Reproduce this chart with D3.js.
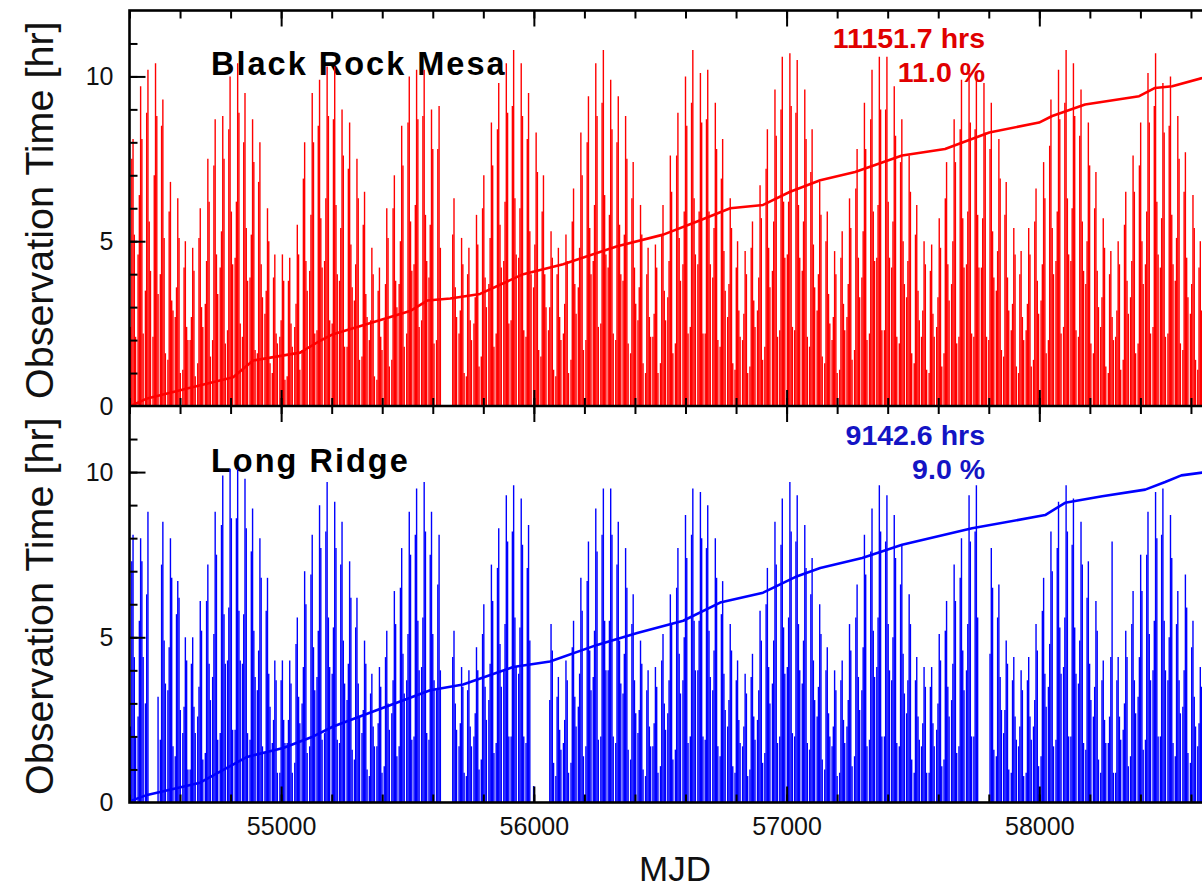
<!DOCTYPE html>
<html><head><meta charset="utf-8">
<script src="https://cdn.jsdelivr.net/npm/d3@7"></script>
<style>html,body{margin:0;padding:0;background:#fff;overflow:hidden}</style>
</head><body><svg id="chart" width="1202" height="887"></svg>
<script>
// New-moon MJD of each observing month (dark period centre)
const monthMJD = [
54414,54444,54473,54503,54532,54562,54591,54621,54650,54680,
54710,54739,54769,54798,54828,54857,54887,54916,54946,54975,
55005,55034,55064,55093,55123,55152,55182,55212,55241,55271,
55300,55330,55359,55389,55418,55448,55477,55507,55536,55566,
55595,55625,55654,55684,55714,55743,55773,55802,55832,55861,
55891,55920,55950,55979,56009,56038,56068,56097,56127,56157,
56186,56216,56245,56275,56304,56334,56363,56393,56422,56452,
56481,56511,56540,56570,56600,56629,56659,56688,56718,56747,
56777,56806,56836,56865,56895,56924,56954,56983,57013,57042,
57072,57101,57131,57161,57190,57220,57249,57279,57308,57338,
57367,57397,57426,57456,57485,57515,57544,57574,57604,57633,
57663,57692,57722,57751,57781,57810,57840,57869,57899,57928,
57958,57987,58017,58046,58076,58106,58135,58165,58194,58224,
58253,58283,58312,58342,58371,58401,58430,58460,58489,58519,
58548,58578,58608,58637];
// day offsets of the sampled nights relative to the new moon
const nightOffsets = [-10, -5, 0, 5, 10];

// Black Rock Mesa nightly observation time [hr]
const brmHours = [
[2.4,7.5,8.1,5.2,2.1],[4.6,6.4,9.7,8.1,2.2],[3.5,8.9,10.2,5.6,4.1],[2.1,7.0,10.4,8.8,3.4],[4.0,8.5,9.3,5.1,1.6],
[1.4,5.9,6.8,3.2,2.9],[2.7,3.6,6.3,5.1,1.0],[1.1,4.2,5.0,2.4,2.0],[2.0,2.7,4.8,4.1,0.9],[1.3,5.1,6.0,3.0,2.4],
[3.1,4.4,7.5,6.2,1.5],[2.0,7.3,8.7,4.6,3.4],[4.2,5.3,8.8,7.5,1.9],[2.3,8.4,10.0,5.9,4.3],[4.5,6.2,10.4,8.9,2.5],
[2.1,8.0,9.5,5.4,3.8],[3.9,5.2,8.7,7.4,1.7],[1.6,6.8,8.0,4.3,3.3],[2.8,3.5,6.0,5.0,1.3],[1.0,3.9,4.6,2.2,1.9],
[2.1,2.6,4.6,3.8,0.8],[0.9,3.8,4.5,2.5,1.8],[2.4,3.1,5.5,4.6,1.1],[1.7,6.9,8.0,4.4,3.5],[4.1,5.8,9.5,8.0,2.2],
[2.3,8.5,9.9,5.7,4.2],[4.4,6.3,10.3,8.8,2.6],[2.5,8.7,10.3,6.1,4.0],[3.8,5.4,9.0,7.6,1.8],[1.8,7.2,8.6,4.9,3.6],
[3.2,4.3,7.5,6.3,1.4],[1.5,5.5,6.5,3.4,2.7],[2.0,2.6,4.8,4.0,0.9],[0.8,3.5,4.2,2.1,1.7],[2.6,3.7,6.0,5.1,1.2],
[1.4,6.0,7.0,3.8,3.0],[3.7,5.0,8.5,7.3,1.8],[2.2,8.6,10.0,5.6,4.1],[4.3,6.1,10.2,8.7,2.4],[2.6,8.8,10.2,5.8,4.4],
[3.9,5.5,9.0,7.8,1.9],[2.0,7.8,9.1,4.8,0],[0,0,0,0,0],[0,5.2,6.3,3.6,2.7],[2.2,2.9,5.1,4.3,1.0],
[0.9,4.0,4.8,2.6,2.0],[2.5,3.3,5.8,4.9,1.2],[1.5,6.0,7.0,3.9,3.0],[3.7,5.1,8.6,7.3,1.8],[2.2,8.4,9.8,5.5,4.2],
[4.4,6.2,10.4,8.9,2.5],[2.6,9.1,10.8,6.3,4.6],[4.5,6.0,10.4,8.8,2.3],[2.1,8.1,9.5,5.3,4.0],[3.6,4.9,8.3,7.1,1.7],
[1.5,5.9,7.0,4.0,3.0],[2.3,3.0,5.3,4.5,1.1],[0.9,4.0,4.8,2.7,2.0],[2.2,3.1,5.2,4.4,1.0],[1.4,5.6,6.6,3.7,2.8],
[3.6,4.8,8.3,7.0,1.7],[2.0,8.0,9.4,5.4,4.0],[4.4,6.1,10.4,8.8,2.4],[2.5,9.2,10.8,6.4,4.6],[4.2,5.8,9.9,8.4,2.2],
[2.0,8.0,9.4,5.5,4.0],[3.8,5.2,8.8,7.5,1.9],[1.6,6.3,7.4,4.2,3.1],[2.6,3.6,6.1,5.2,1.3],[1.0,4.0,4.8,2.7,2.1],
[2.1,2.8,4.9,4.2,1.0],[1.3,5.2,6.1,3.5,2.6],[3.3,4.4,7.6,6.5,1.6],[1.9,7.6,8.9,5.1,3.8],[4.3,5.9,10.0,8.5,2.2],
[2.4,9.2,10.8,6.3,4.6],[4.3,5.9,10.1,8.6,2.2],[2.2,8.7,10.2,5.9,4.3],[3.9,5.4,9.2,7.8,2.0],[1.8,6.9,8.1,4.7,3.5],
[2.7,3.7,6.3,5.4,1.3],[1.1,4.2,5.0,2.9,2.1],[2.0,2.8,4.7,4.0,1.0],[1.2,4.8,5.6,3.2,2.4],[2.9,3.9,6.7,5.7,1.4],
[1.8,7.2,8.4,4.8,3.6],[4.1,5.6,9.6,8.2,2.1],[2.3,9.0,10.6,6.2,4.5],[4.6,6.2,10.7,9.1,2.4],[2.3,8.9,10.5,6.1,4.5],
[4.1,5.6,9.6,8.1,2.1],[1.8,7.1,8.4,4.9,3.6],[2.9,4.0,6.8,5.8,1.5],[1.3,5.0,5.9,3.4,2.5],[2.0,2.7,4.7,4.0,1.0],
[1.1,4.5,5.3,3.1,2.3],[2.7,3.7,6.3,5.4,1.4],[1.7,6.6,7.8,4.5,3.3],[3.9,5.3,9.2,7.8,2.0],[2.2,8.7,10.2,5.9,4.4],
[4.5,6.1,10.6,9.0,2.3],[2.3,9.0,10.6,6.2,4.5],[4.2,5.6,9.7,8.2,2.1],[1.9,7.4,8.7,5.0,3.7],[3.3,4.4,7.6,6.5,1.6],
[1.3,5.2,6.1,3.5,2.6],[2.1,2.9,5.0,4.3,1.1],[1.0,4.1,4.9,2.8,2.1],[2.4,3.3,5.7,4.8,1.2],[1.6,6.3,7.4,4.3,3.2],
[3.7,5.0,8.7,7.4,1.9],[2.1,8.4,9.9,5.7,4.2],[4.3,5.9,10.1,8.6,2.2],[2.1,8.4,9.9,5.8,4.2],[4.2,5.7,9.8,8.3,2.1],
[2.0,7.8,9.2,5.3,3.9],[3.5,4.7,8.1,6.9,1.7],[1.5,5.8,6.8,3.9,2.9],[2.3,3.1,5.4,4.6,1.2],[1.0,4.0,4.7,2.7,2.0],
[2.3,3.1,5.4,4.6,1.2],[1.4,5.6,6.6,3.8,2.8],[3.2,4.3,7.4,6.3,1.6],[2.0,7.9,9.3,5.4,4.0],[4.4,5.9,10.2,8.7,2.2],
[2.4,9.2,10.8,6.3,4.6],[4.4,6.0,10.4,8.8,2.3],[2.1,8.2,9.6,5.6,4.1],[3.7,5.0,8.6,7.3,1.9],[1.6,6.0,7.1,4.1,3.0],
[2.4,3.3,5.7,4.8,1.2],[1.0,4.0,4.7,2.7,2.0],[2.1,2.9,5.0,4.3,1.1],[1.4,5.5,6.5,3.8,2.8],[3.3,4.4,7.6,6.5,1.6],
[1.9,7.3,8.6,5.0,3.7],[4.3,5.9,10.1,8.6,2.2],[2.4,9.1,10.7,6.2,4.6],[4.2,5.7,9.8,8.3,2.1],[2.2,8.5,10.0,5.8,4.3],
[3.8,5.1,8.8,7.5,1.9],[1.7,6.5,7.7,4.5,3.3],[2.8,3.7,6.4,5.4,1.4],[1.1,4.2,5.0,2.9,2.1]];

// Long Ridge nightly observation time [hr]
const lrHours = [
[2.3,7.3,8.1,4.4,2.0],[2.6,5.5,8.0,7.3,4.4],[3.0,6.3,8.8,0,0],[0,0,0,0,3.2],[1.9,7.2,8.5,4.9,3.6],
[3.4,4.7,8.0,6.8,1.7],[1.4,5.7,6.7,6.2,2.8],[2.1,2.9,5.0,4.3,1.0],[1.0,4.2,5.0,2.9,2.1],[2.6,3.5,6.1,5.2,1.3],
[1.5,6.1,7.2,4.2,3.1],[3.8,5.1,8.8,7.5,1.9],[2.1,8.4,9.9,5.7,4.2],[4.3,5.9,10.1,8.6,2.2],[2.2,8.6,10.1,5.8,4.3],
[4.2,5.7,9.8,8.3,2.1],[1.9,7.6,8.9,5.2,3.8],[3.4,4.6,8.0,6.8,1.7],[1.5,5.8,6.8,3.9,2.9],[1.8,2.5,4.3,3.7,0.9],
[0.9,3.7,4.3,2.5,1.8],[1.8,2.5,4.3,3.6,0.9],[1.2,4.8,5.6,3.2,2.4],[3.0,4.1,7.0,6.0,1.5],[1.7,6.9,8.1,4.7,3.4],
[3.8,5.2,9.0,7.7,1.9],[2.1,8.2,9.7,5.6,4.1],[3.9,5.3,9.1,7.7,1.9],[1.8,7.2,8.5,4.9,3.6],[3.1,4.2,7.3,6.2,1.6],
[1.3,5.3,6.2,3.6,2.6],[2.1,2.8,4.9,4.2,1.0],[0.8,3.3,3.9,2.3,1.7],[1.7,2.4,4.1,3.5,0.9],[1.1,4.4,5.2,3.0,2.2],
[2.7,3.7,6.4,5.4,1.4],[1.7,6.5,7.7,4.5,3.3],[3.7,5.1,8.8,7.5,1.9],[2.0,8.1,9.5,5.5,4.0],[4.1,5.6,9.7,8.2,2.1],
[1.9,7.5,8.8,5.1,3.7],[3.4,6.6,8.1,4.0,0],[0,0,0,0,0],[0,4.4,5.2,3.0,2.2],[1.7,2.4,4.1,3.5,0.9],
[0.8,3.4,4.0,2.3,1.7],[2.0,2.7,4.7,4.0,1.0],[1.3,5.1,6.0,3.5,2.5],[3.1,4.2,7.2,6.1,1.5],[1.8,7.1,8.3,4.8,3.5],
[4.0,5.4,9.3,7.9,2.0],[2.0,8.2,9.6,5.6,4.1],[3.9,5.3,9.2,7.8,2.0],[1.8,7.1,8.4,4.9,0],[0.5,0,0,0,0],
[0,0,0,0,0],[0,3.1,5.4,4.6,1.2],[0.8,3.2,3.8,2.2,1.6],[1.8,2.5,4.3,3.7,0.9],[1.2,4.7,5.5,3.2,2.3],
[2.9,3.9,6.8,5.8,1.4],[1.7,6.7,7.9,4.6,3.4],[3.8,5.2,8.9,7.6,1.9],[2.0,8.1,9.5,5.5,4.0],[4.0,5.5,9.5,8.1,2.0],
[1.8,7.2,8.5,4.9,3.6],[3.3,4.5,7.7,6.5,1.6],[1.3,5.4,6.3,3.7,2.7],[2.1,2.8,4.9,4.2,1.0],[0.8,3.4,4.0,2.3,1.7],
[1.7,2.4,4.1,3.5,0.9],[1.1,4.3,5.1,3.0,2.2],[2.7,3.7,6.3,5.4,1.3],[1.6,6.5,7.7,4.5,3.3],[3.7,5.0,8.7,7.4,1.8],
[2.0,8.1,9.5,5.5,4.0],[4.0,5.5,9.4,8.0,2.0],[1.9,7.7,9.0,5.2,3.8],[3.4,4.6,8.0,6.8,1.7],[1.4,5.7,6.7,3.9,2.8],
[2.3,3.1,5.4,4.6,1.1],[0.9,3.7,4.3,2.5,1.8],[1.7,2.3,3.9,3.3,0.8],[1.0,3.8,4.5,2.6,1.9],[2.5,3.4,5.8,4.9,1.2],
[1.5,6.0,7.1,4.1,3.0],[3.6,4.9,8.5,7.2,1.8],[2.0,7.8,9.2,5.3,3.9],[4.1,5.6,9.7,8.2,2.1],[2.0,7.9,9.3,5.4,4.0],
[3.6,4.9,8.4,7.1,1.8],[1.6,6.3,7.4,4.3,3.1],[2.6,3.5,6.0,5.1,1.3],[1.0,4.0,4.7,2.7,2.0],[1.7,2.3,4.0,3.4,0.8],
[0.9,3.7,4.3,2.5,1.8],[2.3,3.1,5.4,4.6,1.1],[1.4,5.6,6.6,3.8,2.8],[3.4,4.7,8.1,6.9,1.7],[1.9,7.6,8.9,5.2,3.8],
[4.1,5.6,9.6,8.2,2.0],[2.0,7.9,9.3,5.4,4.0],[3.7,5.0,8.7,7.4,1.8],[1.7,6.6,7.8,4.5,3.3],[2.7,3.7,6.3,5.4,1.3],
[0.9,3.7,4.4,2.6,1.9],[1.7,2.4,4.1,3.5,0.9],[0.9,3.5,4.1,2.4,1.7],[2.2,3.0,5.1,4.3,1.1],[1.3,5.2,6.1,3.5,2.6],
[3.1,4.2,7.2,6.1,1.5],[1.7,6.8,8.0,4.6,3.4],[4.0,5.4,9.3,7.9,2.0],[2.0,8.2,9.6,5.6,0],[0,0,0,0,0],
[0,4.5,7.7,6.5,1.6],[1.4,5.6,6.6,3.8,2.8],[2.1,2.8,4.9,4.2,1.0],[0.9,3.7,4.4,2.6,1.9],[1.7,2.3,4.0,3.4,0.8],
[0.9,3.7,4.4,2.6,1.9],[2.3,3.1,5.4,4.6,1.1],[1.4,5.8,6.8,3.9,2.9],[3.5,4.8,8.2,7.0,1.7],[1.9,7.7,9.1,5.3,3.9],
[4.1,5.6,9.6,8.2,2.0],[2.0,7.8,9.2,5.3,3.9],[3.6,4.9,8.5,7.2,1.8],[1.6,6.2,7.3,4.2,3.1],[2.6,3.5,6.1,5.2,1.3],
[0.9,3.7,4.3,2.5,1.8],[1.8,2.6,4.4,7.9,0.9],[0.9,3.7,4.4,2.6,1.9],[2.2,3.0,5.2,4.4,1.1],[1.4,5.4,6.4,3.7,2.7],
[3.2,4.4,7.5,6.4,1.6],[1.9,7.5,8.8,5.1,3.7],[4.0,5.5,9.4,8.0,2.0],[2.0,8.1,9.5,5.5,4.0],[3.7,5.0,8.7,7.4,1.8],
[1.4,5.4,6.4,3.7,2.7],[2.9,4.0,6.9,5.9,1.5],[1.2,4.7,5.5,3.2,2.3],[1.7,2.4,4.1,3.5,0.9]];

// cumulative observation time (scaled to 10 at the end), read at [MJD, value]
const brmCumulative = [[54405,0],[54470,0.23],[54628,0.53],[54810,0.87],[54889,1.38],[55075,1.62],[55154,1.98],[55206,2.18],[55380,2.58],[55510,2.88],[55578,3.2],[55669,3.26],[55787,3.4],[55958,4.0],[56116,4.3],[56330,4.85],[56512,5.2],[56646,5.6],[56777,6.0],[56907,6.1],[57014,6.5],[57133,6.85],[57271,7.1],[57457,7.6],[57627,7.8],[57802,8.3],[57999,8.6],[58051,8.8],[58181,9.15],[58395,9.4],[58458,9.65],[58526,9.7],[58644,9.95],[58660,10.0]];
const lrCumulative = [[54405,0.05],[54470,0.23],[54679,0.6],[54865,1.38],[55008,1.65],[55127,2.0],[55206,2.3],[55380,2.8],[55590,3.4],[55720,3.57],[55918,4.1],[56064,4.27],[56250,4.77],[56409,5.13],[56591,5.5],[56737,6.05],[56907,6.35],[57042,6.85],[57133,7.1],[57299,7.4],[57457,7.8],[57734,8.3],[58023,8.7],[58102,9.07],[58249,9.27],[58419,9.47],[58498,9.7],[58562,9.9],[58660,10.0]];

const xTickLabels = [55000, 56000, 57000, 58000];
const yTickLabels = [0, 5, 10];
const panelNames = ["Black Rock Mesa", "Long Ridge"];
const totalHours = ["11151.7 hrs", "9142.6 hrs"];
const dutyCycle = ["11.0 %", "9.0 %"];
const panelColors = ["#ff0000", "#0000ff"];
const textColors = ["#e00000", "#1414c4"];

const svg = d3.select("#chart");
const FONT = "'Liberation Sans', Arial, Helvetica, sans-serif";
const x = d3.scaleLinear().domain([54400, 58800]).range([129.5, 1241.5]);
const panels = [
  {top: 10.5, bottom: 406, hours: brmHours, cum: brmCumulative},
  {top: 406, bottom: 802.5, hours: lrHours, cum: lrCumulative}
];

panels.forEach((p, i) => {
  const y = d3.scaleLinear().domain([0, 12]).range([p.bottom, p.top]);
  const g = svg.append("g");
  const color = panelColors[i];

  // titles and annotations (drawn beneath the data)
  g.append("text").attr("x", 211).attr("y", y(0) - 331)
    .attr("font-family", FONT).attr("font-weight", "bold").attr("font-size", 32.5)
    .attr("letter-spacing", 2).attr("fill", "#000").text(panelNames[i]);
  g.append("text").attr("x", 985).attr("y", y(0) - 358).attr("text-anchor", "end")
    .attr("font-family", FONT).attr("font-weight", "bold").attr("font-size", 28.5)
    .attr("fill", textColors[i]).text(totalHours[i]);
  g.append("text").attr("x", 985).attr("y", y(0) - 324).attr("text-anchor", "end")
    .attr("font-family", FONT).attr("font-weight", "bold").attr("font-size", 28.5)
    .attr("fill", textColors[i]).text(dutyCycle[i]);

  // impulses
  const nights = [];
  p.hours.forEach((vals, k) => vals.forEach((v, j) => {
    if (v > 0) nights.push({mjd: monthMJD[k] + nightOffsets[j], h: v});
  }));
  g.append("g").selectAll("line").data(nights).join("line")
    .attr("x1", d => x(d.mjd)).attr("x2", d => x(d.mjd))
    .attr("y1", y(0)).attr("y2", d => y(d.h))
    .attr("stroke", color).attr("stroke-width", 1.4);

  // cumulative line
  g.append("path").datum(p.cum)
    .attr("d", d3.line().x(d => x(d[0])).y(d => y(d[1])))
    .attr("fill", "none").attr("stroke", color).attr("stroke-width", 2.6)
    .attr("stroke-linejoin", "round");

  // ticks
  const tickStyle = sel => {
    sel.select(".domain").remove();
    sel.selectAll(".tick line").attr("stroke", "#000").attr("stroke-width", 2);
  };
  const minorX = d3.range(54400, 58801, 200);
  const majorX = d3.range(55000, 58801, 1000);
  svg.append("g").attr("transform", `translate(0,${p.top})`)
    .call(d3.axisBottom(x).tickValues(minorX).tickSize(8).tickFormat("")).call(tickStyle);
  svg.append("g").attr("transform", `translate(0,${p.top})`)
    .call(d3.axisBottom(x).tickValues(majorX).tickSize(16).tickFormat("")).call(tickStyle);
  svg.append("g").attr("transform", `translate(0,${p.bottom})`)
    .call(d3.axisTop(x).tickValues(minorX).tickSize(8).tickFormat("")).call(tickStyle);
  svg.append("g").attr("transform", `translate(0,${p.bottom})`)
    .call(d3.axisTop(x).tickValues(majorX).tickSize(16).tickFormat("")).call(tickStyle);
  svg.append("g").attr("transform", `translate(129.5,0)`)
    .call(d3.axisRight(y).tickValues(d3.range(1, 12)).tickSize(8).tickFormat("")).call(tickStyle);
  svg.append("g").attr("transform", `translate(129.5,0)`)
    .call(d3.axisRight(y).tickValues([5, 10]).tickSize(16).tickFormat("")).call(tickStyle);

  // y tick labels
  const yl = svg.append("g").attr("transform", `translate(129.5,0)`)
    .call(d3.axisLeft(y).tickValues(yTickLabels).tickSize(0).tickPadding(16).tickFormat(d3.format("d")));
  yl.select(".domain").remove();
  yl.selectAll("text").attr("font-family", FONT).attr("font-size", 25).attr("fill", "#111");

  // y axis title
  svg.append("text").attr("transform", `translate(53,${(p.top + p.bottom) / 2 + 2}) rotate(-90)`)
    .attr("text-anchor", "middle").attr("font-family", FONT).attr("font-size", 39.5)
    .attr("fill", "#111").text("Observation Time [hr]");
});

// frame
svg.append("rect").attr("x", 129.5).attr("y", 10.5).attr("width", 1112).attr("height", 792)
  .attr("fill", "none").attr("stroke", "#000").attr("stroke-width", 2.6);
svg.append("line").attr("x1", 129.5).attr("x2", 1241.5).attr("y1", 406).attr("y2", 406)
  .attr("stroke", "#000").attr("stroke-width", 2.6);

// x tick labels
const xl = svg.append("g").attr("transform", "translate(0,802.5)")
  .call(d3.axisBottom(x).tickValues(xTickLabels).tickSize(0).tickPadding(15).tickFormat(d3.format("d")));
xl.select(".domain").remove();
xl.selectAll("text").attr("font-family", FONT).attr("font-size", 25).attr("fill", "#111");

svg.append("text").attr("x", 675).attr("y", 881).attr("text-anchor", "middle")
  .attr("font-family", FONT).attr("font-size", 35).attr("fill", "#111").text("MJD");
</script></body></html>
